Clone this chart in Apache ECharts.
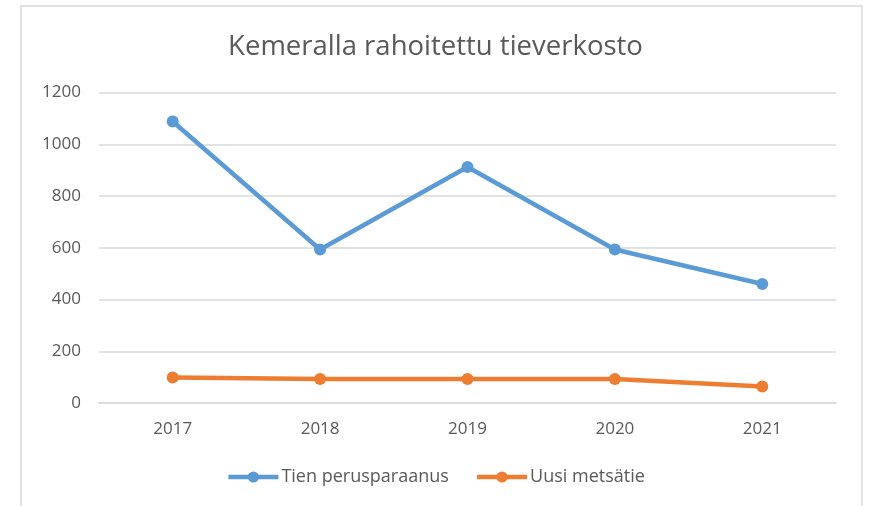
<!DOCTYPE html>
<html>
<head>
<meta charset="utf-8">
<script src="https://cdn.jsdelivr.net/npm/echarts@6/dist/echarts.min.js"></script>
<style>
  html, body { margin: 0; padding: 0; background: #fff; }
  #main { width: 871px; height: 506px; }
</style>
</head>
<body>
<div id="main"></div>
<script>
var years = ['2017', '2018', '2019', '2020', '2021'];
var perusparannus = [1088, 593, 912, 593, 460];
var metsatie = [99, 93, 93, 93, 64];
var yTicks = [0, 200, 400, 600, 800, 1000, 1200];

var font = 'Open Sans';
var myChart = echarts.init(document.getElementById('main'));

myChart.setOption({
  backgroundColor: '#fff',
  textStyle: { fontFamily: font },
  animation: false,
  graphic: [{
    type: 'rect',
    shape: { x: 21, y: 6, width: 841, height: 510 },
    style: { fill: 'none', stroke: '#d9d9d9', lineWidth: 1.5 },
    silent: true
  }],
  title: {
    text: 'Kemeralla rahoitettu tieverkosto',
    left: 'center',
    top: 28,
    textStyle: { fontFamily: font, fontSize: 27.5, fontWeight: 'normal', color: '#595959' }
  },
  legend: {
    top: 463,
    left: 'center',
    itemWidth: 50,
    itemHeight: 14,
    itemGap: 26,
    lineStyle: { width: 4.5 },
    textStyle: { fontFamily: font, fontSize: 18, color: '#595959', padding: [0, 0, 0, -2] },
    data: ['Tien perusparaanus', 'Uusi metsätie']
  },
  grid: { left: 99, right: 35, top: 92.5, bottom: 103 },
  xAxis: {
    type: 'category',
    data: years,
    boundaryGap: true,
    axisLine: { show: true, lineStyle: { color: '#d9d9d9', width: 1.5 } },
    axisTick: { show: false },
    axisLabel: { fontFamily: font, fontSize: 17, color: '#595959', margin: 18 }
  },
  yAxis: {
    type: 'value',
    min: yTicks[0],
    max: yTicks[yTicks.length - 1],
    interval: 200,
    axisLine: { show: false },
    axisTick: { show: false },
    splitLine: { lineStyle: { color: '#d9d9d9', width: 1.5 } },
    axisLabel: {
      fontFamily: font, fontSize: 17, color: '#595959', margin: 18,
      formatter: function (v) { return String(v); }
    }
  },
  series: [
    {
      name: 'Tien perusparaanus',
      type: 'line',
      data: perusparannus,
      color: '#5b9bd5',
      symbol: 'circle',
      symbolSize: 12,
      lineStyle: { width: 4.5 }
    },
    {
      name: 'Uusi metsätie',
      type: 'line',
      data: metsatie,
      color: '#ed7d31',
      symbol: 'circle',
      symbolSize: 12,
      lineStyle: { width: 4.5 }
    }
  ]
});
</script>
</body>
</html>
